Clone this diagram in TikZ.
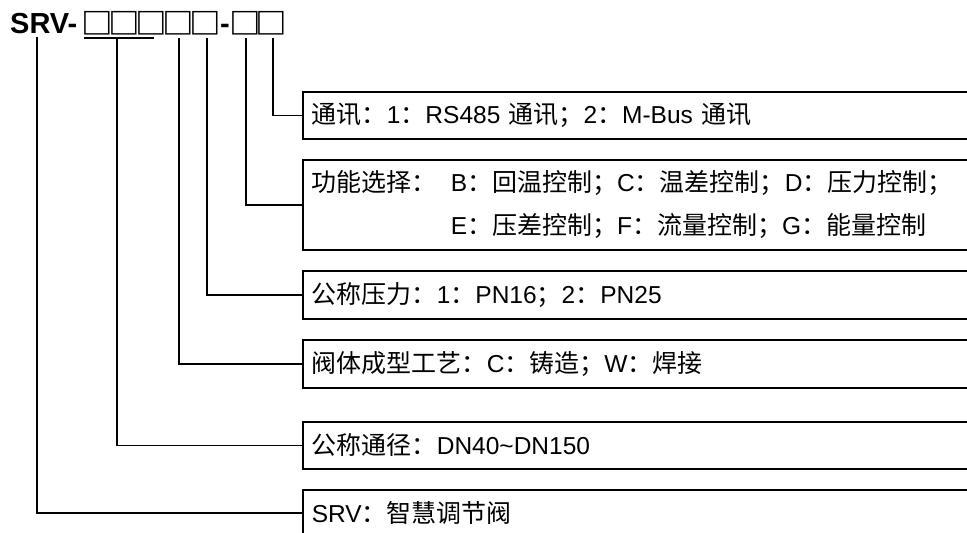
\documentclass[tikz,border=0pt]{standalone}
\usepackage{fontspec}
\setmainfont{Liberation Sans}
\newfontfamily\cjk[Scale=1.02]{Noto Sans CJK SC}
\newcommand{\zh}[1]{{\cjk #1}}
\begin{document}
\begin{tikzpicture}[x=1pt,y=-1pt,
  desc/.style={draw, line width=1.8pt, anchor=north west, text width=680pt, align=left,
    inner xsep=9pt, inner ysep=0pt, font=\fontsize{24.5}{43}\selectfont},
  conn/.style={line width=1.8pt},
  ttl/.style={font=\fontsize{29}{29}\bfseries\selectfont, inner sep=0pt, anchor=base west},
  sq/.style={font=\cjk\bfseries\fontsize{29}{29}\selectfont, inner sep=0pt, xscale=1.07, transform shape}
]
\useasboundingbox (0,0) rectangle (967,533);

% title
\node[ttl] (srv) at (10,33) {SRV-};
\node[sq] (s1) at (97.8,23) {\makebox[22pt]{□}};
\node[sq] (s2) at (124.5,23) {\makebox[22pt]{□}};
\node[sq] (s3) at (151.3,23) {\makebox[22pt]{□}};
\node[sq] (s4) at (178.2,23) {\makebox[22pt]{□}};
\node[sq] (s5) at (205,23) {\makebox[22pt]{□}};
\node[ttl] (dash) at (220,33) {-};
\node[sq] (s6) at (245.3,23) {\makebox[22pt]{□}};
\node[sq] (s7) at (271.3,23) {\makebox[22pt]{□}};

% description boxes
\node[desc, minimum height=47pt] (b1) at (302,91)
  {\zh{通讯：}1\zh{：}RS485 \zh{通讯；}2\zh{：}M-Bus \zh{通讯}};
\node[desc, minimum height=90pt] (b2) at (302,159)
  {\makebox[139pt][l]{\zh{功能选择：}}B\zh{：回温控制；}C\zh{：温差控制；}D\zh{：压力控制；}\\
   \hspace*{139pt}E\zh{：压差控制；}F\zh{：流量控制；}G\zh{：能量控制}};
\node[desc, minimum height=48pt] (b3) at (302,270)
  {\zh{公称压力：}1\zh{：}PN16\zh{；}2\zh{：}PN25};
\node[desc, minimum height=48pt] (b4) at (302,339)
  {\zh{阀体成型工艺：}C\zh{：铸造；}W\zh{：焊接}};
\node[desc, minimum height=47pt] (b5) at (302,421)
  {\zh{公称通径：}DN40\textasciitilde DN150};
\node[desc, minimum height=46pt] (b6) at (302,489)
  {SRV\zh{：智慧调节阀}};

% connectors
\coordinate (u1) at (84,38);
\coordinate (u2) at (154,38);
\draw[conn] (u1) -- (u2);
\coordinate (c6) at (37,37);
\coordinate (c5) at (117,38);
\coordinate (c4) at (179,38);
\coordinate (c3) at (207,38);
\coordinate (c2) at (246,38);
\coordinate (c1) at (273,38);
\draw[conn] (c1) |- (b1.west);
\draw[conn] (c2) |- (b2.west);
\draw[conn] (c3) |- (b3.west);
\draw[conn] (c4) |- (b4.west);
\draw[conn] (c5) |- (b5.west);
\draw[conn] (c6) |- (b6.west);
\end{tikzpicture}
\end{document}
